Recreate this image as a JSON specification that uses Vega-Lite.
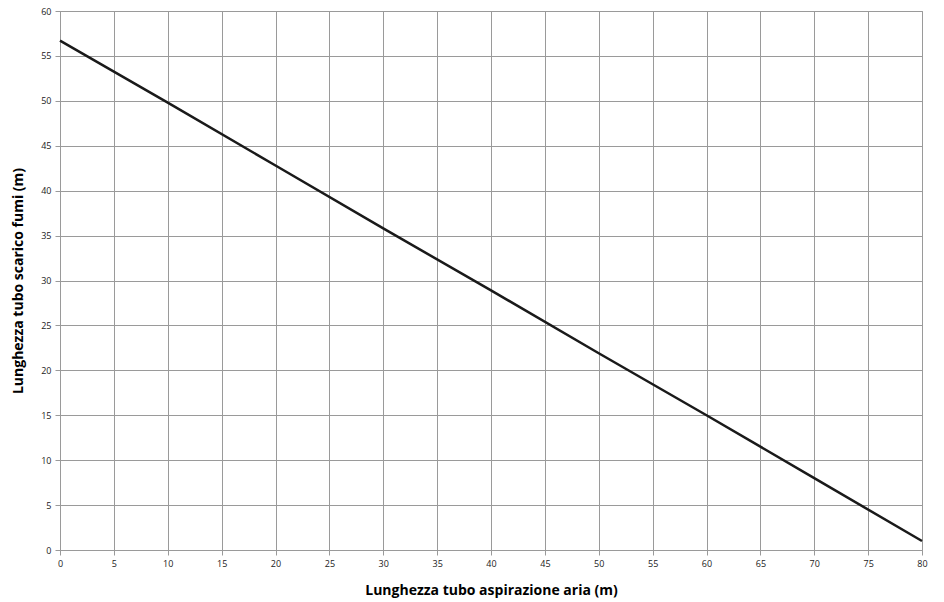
{
  "$schema": "https://vega.github.io/schema/vega-lite/v6.json",
  "width": 862,
  "height": 539,
  "autosize": {"type": "none"},
  "padding": {"left": 60, "top": 11, "right": 22, "bottom": 52},
  "background": "white",
  "config": {
    "view": {"stroke": "#9a9a9a", "strokeWidth": 1},
    "font": "Open Sans"
  },
  "data": {
    "values": [
      {"aria": 0, "fumi": 56.7},
      {"aria": 10, "fumi": 49.8},
      {"aria": 20, "fumi": 42.8},
      {"aria": 30, "fumi": 35.8},
      {"aria": 40, "fumi": 28.9},
      {"aria": 50, "fumi": 21.9},
      {"aria": 60, "fumi": 15.0},
      {"aria": 70, "fumi": 8.0},
      {"aria": 80, "fumi": 1.0}
    ]
  },
  "mark": {"type": "line", "color": "#1a1a1a", "strokeWidth": 2.5},
  "encoding": {
    "x": {
      "field": "aria",
      "type": "quantitative",
      "scale": {"domain": [0, 80], "nice": false, "zero": false},
      "axis": {
        "title": "Lunghezza tubo aspirazione aria (m)",
        "values": [0,5,10,15,20,25,30,35,40,45,50,55,60,65,70,75,80],
        "grid": true,
        "gridColor": "#9a9a9a",
        "gridOpacity": 1,
        "domainColor": "#9a9a9a",
        "tickColor": "#9a9a9a",
        "tickSize": 5,
        "labelFlush": false,
        "labelOverlap": false,
        "labelFont": "Open Sans",
        "labelFontSize": 9,
        "labelColor": "#222",
        "labelPadding": 4,
        "titleFont": "Open Sans",
        "titleFontSize": 14,
        "titleFontWeight": "bold",
        "titleColor": "#000",
        "titlePadding": 15
      }
    },
    "y": {
      "field": "fumi",
      "type": "quantitative",
      "scale": {"domain": [0, 60], "nice": false, "zero": false},
      "axis": {
        "title": "Lunghezza tubo scarico fumi (m)",
        "values": [0,5,10,15,20,25,30,35,40,45,50,55,60],
        "grid": true,
        "gridColor": "#9a9a9a",
        "gridOpacity": 1,
        "domainColor": "#9a9a9a",
        "tickColor": "#9a9a9a",
        "tickSize": 5,
        "labelFlush": false,
        "labelOverlap": false,
        "labelFont": "Open Sans",
        "labelFontSize": 9,
        "labelColor": "#222",
        "labelPadding": 4,
        "titleFont": "Open Sans",
        "titleFontSize": 14,
        "titleFontWeight": "bold",
        "titleColor": "#000",
        "titlePadding": 15
      }
    }
  }
}
